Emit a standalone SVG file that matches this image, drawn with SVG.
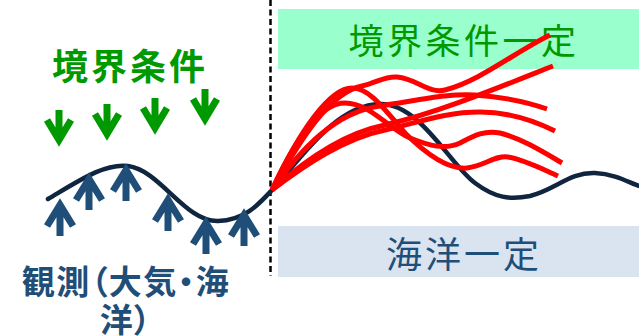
<svg xmlns="http://www.w3.org/2000/svg" xmlns:xlink="http://www.w3.org/1999/xlink" width="639" height="336" viewBox="0 0 639 336">
<style>
.t{font-family:"Noto Sans CJK JP","Noto Sans",sans-serif;font-feature-settings:"palt";text-anchor:middle}
.g{fill:#009900}
.b{fill:#1F4E79}
.bold{font-weight:bold}
.garr{fill:none;stroke:#009900;stroke-width:7;stroke-linejoin:miter;stroke-miterlimit:10}
.barr{fill:none;stroke:#1F4E79;stroke-width:7;stroke-linejoin:miter;stroke-miterlimit:10}
.wave{fill:none;stroke:#10253F;stroke-width:4.5;stroke-linecap:round}
.red{fill:none;stroke:#FF0000;stroke-width:5;stroke-linecap:butt}
</style>
<defs>
<path id="dn" d="M0,-37 V-6 M-12,-27 L0,-7 L12,-27"/>
<path id="up" d="M0,38 V6 M-13,28 L0,7 L13,28"/>
</defs>
<rect width="639" height="336" fill="#FFFFFF"/>

<g id="boundary-const">
<rect x="278" y="9" width="361" height="60" fill="#99FFCC"/>
<text class="t g" x="464" y="54" font-size="35" letter-spacing="3.5">境界条件一定</text>
</g>
<g id="ocean-const">
<rect x="278" y="226" width="361" height="51" fill="#DAE3F0"/>
<text class="t b" x="464" y="268" font-size="36" letter-spacing="3">海洋一定</text>
</g>

<g id="boundary-label">
<text class="t g bold" x="130" y="80" font-size="36" letter-spacing="3">境界条件</text>
</g>
<g id="boundary-arrows" class="garr">
<use xlink:href="#dn" href="#dn" x="59" y="147"/>
<use xlink:href="#dn" href="#dn" x="107" y="141"/>
<use xlink:href="#dn" href="#dn" x="155" y="135"/>
<use xlink:href="#dn" href="#dn" x="205" y="126"/>
</g>

<g id="obs-label">
<text class="t b bold" font-size="33" letter-spacing="1.5"><tspan x="126" y="294">観測（大気・海</tspan><tspan x="126" y="332">洋）</tspan></text>
</g>

<g id="divider">
<line x1="270.5" y1="0" x2="270.5" y2="276" stroke="#000000" stroke-width="2.5" stroke-dasharray="6,3.5"/>
</g>

<g id="connectors">
<path class="wave" d="M48,199 C80,180 105,163 128,166 C160,170 185,222 218,221 C245,220 258,205 272,190 C300,160 335,105 380,104 C420,103 450,165 475,183 C495,198 510,200 530,196 C555,190 570,172 595,173 C615,174 628,182 639,186"/>
<path class="red" d="M272,190 C300,140 330,92 362,86 C378,82 385,76 397,77 C418,79 428,94 445,90 C480,81 515,52 550,35"/>
<path class="red" d="M272,190 C305,160 345,133 385,125 C440,112 500,87 553,66"/>
<path class="red" d="M272,190 C300,150 335,112 380,106 C420,100 450,93 475,95 C505,97 530,103 547,109"/>
<path class="red" d="M272,190 C305,165 345,138 385,130 C420,122 445,112 480,112 C510,112 535,121 555,131"/>
<path class="red" d="M272,190 C295,140 320,103 345,103 C370,103 390,130 410,138 C430,146 445,150 460,143 C475,135 485,130 500,133 C520,138 540,150 562,163"/>
<path class="red" d="M272,190 C300,130 330,88 352,88 C370,88 385,110 405,133 C420,148 445,170 467,168 C485,166 495,155 508,157 C525,160 540,168 558,176"/>
</g>

<g id="obs-arrows" class="barr">
<use xlink:href="#up" href="#up" x="60" y="198"/>
<use xlink:href="#up" href="#up" x="89" y="172"/>
<use xlink:href="#up" href="#up" x="126" y="163"/>
<use xlink:href="#up" href="#up" x="168" y="193"/>
<use xlink:href="#up" href="#up" x="206" y="216"/>
<use xlink:href="#up" href="#up" x="244" y="208"/>
</g>
</svg>
